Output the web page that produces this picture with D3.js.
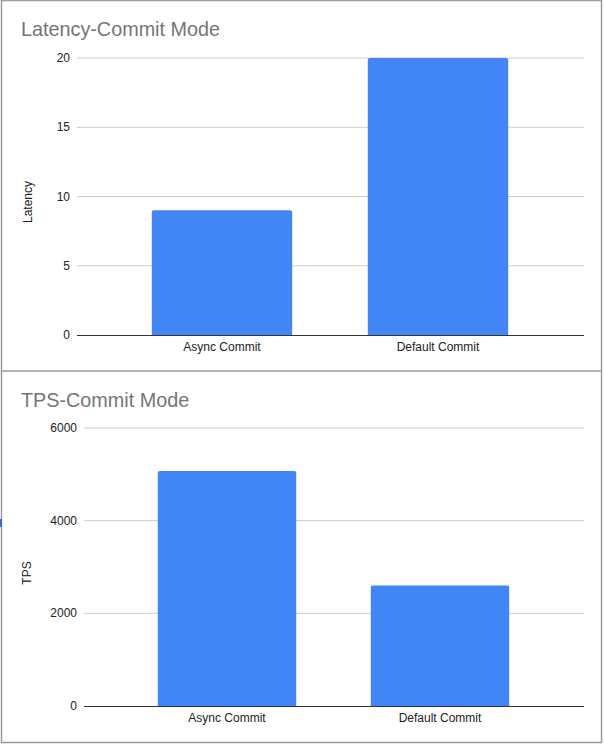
<!DOCTYPE html>
<html>
<head>
<meta charset="utf-8">
<script src="https://cdn.jsdelivr.net/npm/d3@7"></script>
<style>
body{margin:0;background:#fff;}
text{font-family:"Liberation Sans",Arial,sans-serif;}
</style>
</head>
<body>
<div id="chart"></div>
<script>
// two stacked column charts: latency and tps per commit mode

var modes = ["Async Commit", "Default Commit"];
var latency = [9, 20];
var latencyTicks = [0, 5, 10, 15, 20];
var tps = [5070, 2600];
var tpsTicks = [0, 2000, 4000, 6000];

var blue = "#4285F4";

var svg = d3.select("#chart").append("svg").attr("width", 604).attr("height", 745);

// outer frames
svg.append("rect").attr("x", 1.5).attr("y", 0.5).attr("width", 600).attr("height", 742)
    .attr("fill", "none").attr("stroke", "#9a9a9a").attr("stroke-width", 1.5);
svg.append("line").attr("x1", 1.5).attr("x2", 601.5).attr("y1", 371).attr("y2", 371)
    .attr("stroke", "#9a9a9a").attr("stroke-width", 1.5);
svg.append("rect").attr("x", 0).attr("y", 519).attr("width", 2).attr("height", 8).attr("fill", "#3b6fc4");

var charts = [
    {title: "Latency-Commit Mode", label: "Latency", values: latency, ticks: latencyTicks,
     titleY: 36, left: 77, top: 58, bottom: 335, xr: [114, 546], labelX: 32, labelY: 202},
    {title: "TPS-Commit Mode", label: "TPS", values: tps, ticks: tpsTicks,
     titleY: 407, left: 84, top: 428, bottom: 706, xr: [120.5, 546.5], labelX: 31, labelY: 573}
];

charts.forEach(function(c){
    var g = svg.append("g");
    var x = d3.scaleBand().domain(modes).range(c.xr).paddingInner(0.35).paddingOuter(0.175);
    var y = d3.scaleLinear().domain([0, d3.max(c.ticks)]).range([c.bottom, c.top]);

    g.append("text").attr("x", 21).attr("y", c.titleY).attr("fill", "#757575")
        .style("font-size", "19.8px").text(c.title);

    // gridlines
    g.selectAll(".grid").data(c.ticks.slice(1)).enter().append("line")
        .attr("x1", c.left).attr("x2", 584)
        .attr("y1", d=>y(d)).attr("y2", d=>y(d))
        .attr("stroke", "#cccccc").attr("stroke-width", 1);

    // y tick labels
    g.selectAll(".ytick").data(c.ticks).enter().append("text")
        .attr("x", c.left - 7).attr("y", d=>y(d) + 4)
        .attr("text-anchor", "end").attr("fill", "#222")
        .style("font-size", "12px").text(d=>d);

    g.selectAll(".bar").data(c.values).enter().append("path")
        .attr("fill", blue)
        .attr("d", function(d, i){
            var x0 = x(modes[i]), w = x.bandwidth(), y0 = y(d), r = 2;
            return "M" + x0 + "," + c.bottom + "V" + (y0 + r) + "Q" + x0 + "," + y0 + " " + (x0 + r) + "," + y0
                + "H" + (x0 + w - r) + "Q" + (x0 + w) + "," + y0 + " " + (x0 + w) + "," + (y0 + r)
                + "V" + c.bottom + "Z";
        });

    // baseline
    g.append("line").attr("x1", c.left).attr("x2", 584).attr("y1", c.bottom + 0.5).attr("y2", c.bottom + 0.5)
        .attr("stroke", "#333").attr("stroke-width", 1.2);

    g.selectAll(".xlab").data(modes).enter().append("text")
        .attr("x", d=>x(d) + x.bandwidth() / 2).attr("y", c.bottom + 16)
        .attr("text-anchor", "middle").attr("fill", "#222")
        .style("font-size", "12px").text(d=>d);

    g.append("text").attr("transform", "translate(" + c.labelX + "," + c.labelY + ") rotate(-90)")
        .attr("text-anchor", "middle").attr("fill", "#222")
        .style("font-size", "12px").text(c.label);
});
</script>
</body>
</html>
